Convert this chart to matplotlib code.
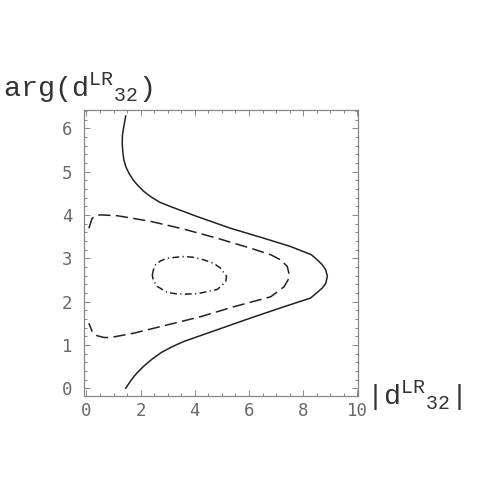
import matplotlib
matplotlib.use("Agg")
import matplotlib.pyplot as plt
from matplotlib.ticker import MultipleLocator

# contour lines: x = |d^LR_32|, y = arg(d^LR_32)
solid_x = [1.45, 1.38, 1.33, 1.32, 1.34, 1.38, 1.46, 1.57, 1.72, 1.88, 2.10, 2.37, 2.71, 3.11,
           4.09, 5.32, 6.55, 7.53, 8.30, 8.52, 8.70, 8.83, 8.89, 8.83, 8.70, 8.27, 7.29,
           6.06, 4.83, 3.60, 3.17, 2.75, 2.40, 2.10, 1.88, 1.75, 1.60, 1.45]
solid_y = [6.28, 6.04, 5.85, 5.65, 5.46, 5.27, 5.10, 4.96, 4.81, 4.69, 4.55, 4.42, 4.29, 4.19,
           3.96, 3.69, 3.46, 3.27, 3.08, 2.96, 2.85, 2.73, 2.58, 2.42, 2.31, 2.08, 1.88,
           1.62, 1.35, 1.08, 0.96, 0.82, 0.66, 0.50, 0.36, 0.27, 0.14, 0.0]

dashed_x = [0.09, 0.21, 0.34, 0.52, 1.14, 2.37, 3.60, 4.83, 6.06, 6.80, 7.17, 7.41, 7.47,
            7.44, 7.29, 6.80, 5.44, 4.21, 2.98, 1.75, 0.89, 0.65, 0.40, 0.21, 0.09]
dashed_y = [3.69, 3.92, 3.98, 4.00, 3.98, 3.85, 3.67, 3.46, 3.23, 3.08, 2.96, 2.81, 2.65,
            2.50, 2.34, 2.11, 1.88, 1.65, 1.46, 1.27, 1.17, 1.17, 1.21, 1.31, 1.50]

dashdot_x = [2.43, 2.47, 2.55, 2.74, 2.98, 3.60, 3.97, 4.34, 4.70, 4.95, 5.17, 5.14, 5.01,
             4.83, 4.46, 4.09, 3.60, 3.29, 2.98, 2.61, 2.47, 2.43]
dashdot_y = [2.61, 2.73, 2.85, 2.94, 3.00, 3.04, 3.02, 2.96, 2.88, 2.77, 2.58, 2.46, 2.38,
             2.28, 2.23, 2.18, 2.17, 2.18, 2.21, 2.35, 2.48, 2.61]

plt.rcParams['mathtext.fontset'] = 'custom'
plt.rcParams['mathtext.rm'] = 'Liberation Mono'

W, H = 485, 498
fig = plt.figure(figsize=(W/100, H/100), dpi=100)
ax = fig.add_axes([84/W, 1 - 396/H, (358 - 84)/W, (396 - 110)/H])

lc = '#222222'
ax.plot(solid_x, solid_y, '-', color=lc, lw=1.1)
ax.plot(dashed_x, dashed_y, color=lc, lw=1.1, dashes=(8, 3.5))
ax.plot(dashdot_x, dashdot_y, color=lc, lw=1.1, dashes=(4.5, 2.2, 0.8, 2.2))

ax.set_xlim(-0.09, 10.02)
ax.set_ylim(-0.18, 6.42)

ax.xaxis.set_major_locator(MultipleLocator(2))
ax.xaxis.set_minor_locator(MultipleLocator(0.5))
ax.yaxis.set_major_locator(MultipleLocator(1))
ax.yaxis.set_minor_locator(MultipleLocator(0.2))

fc = '#888888'
for s in ax.spines.values():
	s.set_color(fc)
	s.set_linewidth(0.9)
ax.tick_params(which='both', direction='in', top=True, right=True, color=fc, width=0.7)
ax.tick_params(which='major', length=4.5)
ax.tick_params(which='minor', length=2.2)
ax.tick_params(axis='x', which='major', pad=4)
ax.tick_params(axis='y', which='major', pad=8.5)
for lab in ax.get_xticklabels() + ax.get_yticklabels():
	lab.set_fontfamily('DejaVu Sans Mono')
	lab.set_fontsize(12.5)
	lab.set_color('#6a6a6a')

# axis titles placed like the original (top-left and right of x axis)
fig.text(3/W, 1 - 97/H, r'arg(d$^{\mathrm{LR}}{}_{\mathrm{32}}$)', family='Liberation Mono',
         fontsize=20.5, color='#333333', ha='left', va='baseline')
fig.text(366/W, 1 - 405/H, r'|d$^{\mathrm{LR}}{}_{\mathrm{32}}$|', family='Liberation Mono',
         fontsize=20.5, color='#333333', ha='left', va='baseline')

fig.savefig('out.png', dpi=100)
